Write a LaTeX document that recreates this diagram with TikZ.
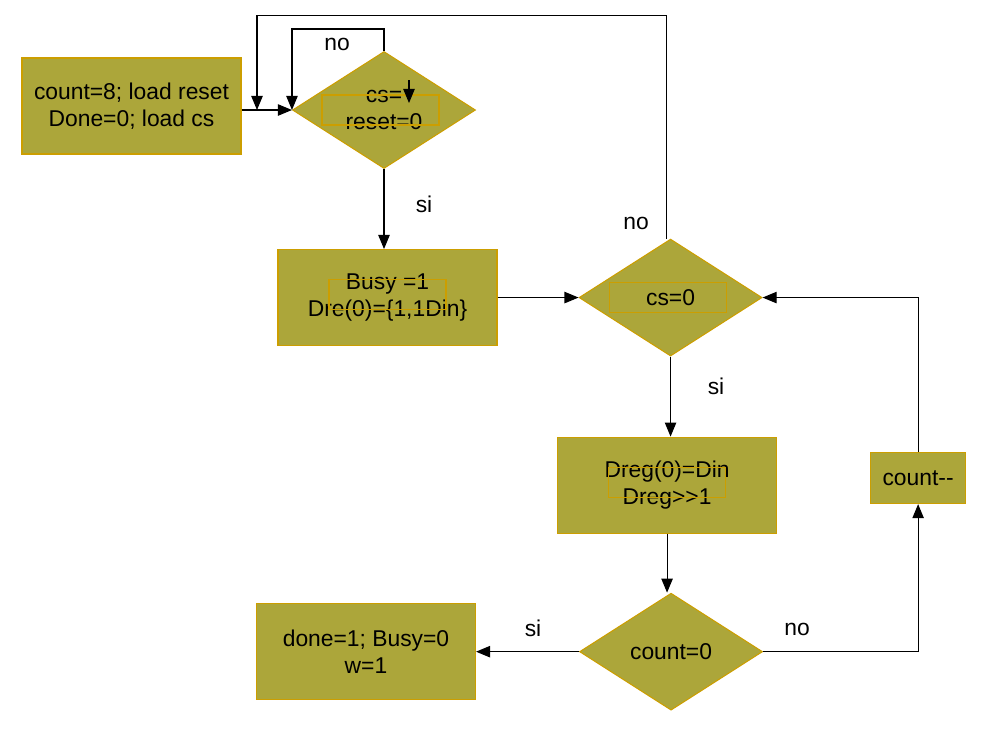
\documentclass[tikz,border=0pt]{standalone}
\usepackage{fontspec}
\setmainfont{Liberation Sans}
\usepackage{tikz}
\usetikzlibrary{positioning, arrows.meta, shapes.geometric}
\definecolor{oliva}{RGB}{172,166,58}
\definecolor{borde}{RGB}{204,158,0}
\tikzset{box state/.style={draw=borde, fill=oliva, minimum width=4.38cm, minimum height=1.92cm, inner sep=0pt, align=center}}
\tikzset{diamond state/.style={draw=borde, fill=oliva, diamond, minimum width=3.66cm, minimum height=2.34cm, inner sep=0pt, align=center}}
\tikzset{text frame/.style={draw=borde, line width=0.6pt, minimum width=2.34cm, minimum height=0.6cm, inner sep=0pt}}

\begin{document}
\begin{tikzpicture}[-{Triangle[length=8pt,width=6.5pt]}, line width=0.6pt, font=\fontsize{13}{15}\selectfont]
			\useasboundingbox (0,0) rectangle (19.7,-14.8);
			\node[box state] (init) at (2.63,-2.12) {count=8; load reset\\Done=0; load cs};
			\node[diamond state] (D1) at (7.68,-2.2) {cs=\\reset=0};
			\node[box state, below=1.6cm of D1, xshift=0.07cm] (busy) {Busy =1\\Dre(0)=\{1,1Din\}};
			\node[diamond state, right=1.62cm of busy] (D2) {cs=0};
			\node[box state, below=1.6cm of D2, xshift=-0.07cm] (shift) {Dreg(0)=Din\\Dreg>{}>1};
			\node[diamond state, below=1.18cm of shift, xshift=0.08cm] (D3) {count=0};
			\node[box state, left=2.06cm of D3] (done) {done=1; Busy=0\\w=1};
			\node[box state, minimum width=1.9cm, minimum height=1.02cm, right=1.9cm of shift, yshift=0.14cm, xshift=-0.04cm] (dec) {count-{}-};
			
			\node[text frame] (D1f) at ([xshift=-0.07cm]D1) {};
			\node[text frame] (busyf) at ([yshift=0.07cm]busy) {};
			\node[text frame] (D2f) at ([xshift=-0.06cm]D2) {};
			\node[text frame] (shiftf) at ([yshift=0.06cm]shift) {};
			
			\node (no1) at (6.74,-0.88) {no};
			\node (no2) at (12.72,-4.46) {no};
			\node (si1) at (8.48,-4.08) {si};
			\node (si2) at (14.32,-7.72) {si};
			\node (si3) at (10.66,-12.56) {si};
			\node (no3) at (15.94,-12.58) {no};
			
			\coordinate (join) at (5.14,-2.2);
			\coordinate (tickA) at (8.18,-1.6);
			\coordinate (tickB) at (8.18,-2.06);
			
			\draw (init.east |- D1.west) -- (D1.west);
			\draw (D1.north) -- ++(0,0.44) -| (D1.west);
			\draw ([xshift=-0.08cm]D2.north) -- ++(0,4.46) -| (join);
			\draw (tickA) -- (tickB);
			\draw (D1.south) -- (D1.south |- busy.north);
			\draw (busy.east |- D2.west) -- (D2.west);
			\draw (D2.south) -- (D2.south |- shift.north);
			\draw (shift.south) -- (shift.south |- D3.north);
			\draw (D3.west) -- (D3.west -| done.east);
			\draw (D3.east) -| (dec.south);
			\draw (dec.north) |- (D2.east);
		\end{tikzpicture}
\end{document}
